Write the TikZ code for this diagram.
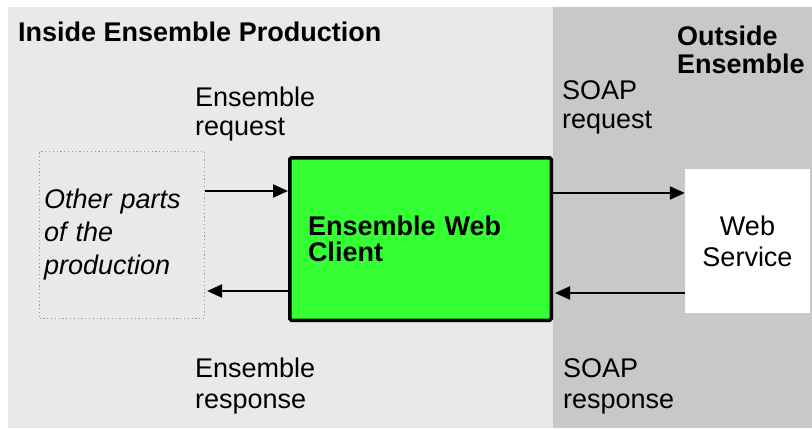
\documentclass[tikz,border=0pt]{standalone}
\usepackage{fontspec}
\setmainfont{Liberation Sans}
\usetikzlibrary{arrows.meta}
\definecolor{inbg}{HTML}{E9E9E9}
\definecolor{outbg}{HTML}{C8C8C8}
\definecolor{clientgreen}{HTML}{33FF33}
\definecolor{dotgrey}{HTML}{9A9A9A}
\begin{document}
\begin{tikzpicture}[x=1pt,y=-1pt,
  region/.style={anchor=north west,inner sep=0pt,outer sep=0pt,draw=none},
  lbl/.style={anchor=base west,inner sep=0pt,align=left,font=\fontsize{27}{#1}\selectfont},
  lbl/.default=29,
  boldlbl/.style={anchor=base west,inner sep=0pt,align=left,font=\fontsize{27}{#1}\selectfont\bfseries},
  boldlbl/.default=28,
  flow/.style={line width=2.2pt,-{Triangle[length=15pt,width=13pt]}},
]
\useasboundingbox (0,0) rectangle (812,429);
\fill[white] (0,0) rectangle (812,429);
% regions
\node[region,fill=inbg,minimum width=545pt,minimum height=421pt] (inside) at (8,7) {};
\node[region,fill=outbg,minimum width=259pt,minimum height=421pt] (outside) at (553,7) {};
% boxes
\node[draw=dotgrey,line width=1.2pt,dash pattern=on 1.2pt off 2.6pt,minimum width=165pt,minimum height=167pt,
      text width=156pt,inner xsep=4pt,align=left,
      font=\fontsize{27}{33}\selectfont\itshape] (other) at (122,235)
      {Other parts\\of the\\production};
\node[draw=black,fill=clientgreen,line width=3.5pt,rounded corners=1.5pt,
      minimum width=261.5pt,minimum height=162.5pt,
      text width=225pt,inner xsep=18pt,align=left,
      font=\fontsize{27}{26}\selectfont\bfseries] (client) at (420.5,239)
      {Ensemble Web\\Client};
\node[fill=white,draw=none,minimum width=125pt,minimum height=144pt,align=center,
      font=\fontsize{27}{31}\selectfont] (ws) at (747.5,241)
      {Web\\Service};
% labels (base anchor = baseline of the last line)
\node[boldlbl] (title) at (18,41) {Inside Ensemble Production};
\node[boldlbl=28] (outtitle) at (677,73) {Outside\\Ensemble};
\node[lbl=29] (ereq) at (195,135) {Ensemble\\request};
\node[lbl=29] (sreq) at (562,128) {SOAP\\request};
\node[lbl=31] (eresp) at (195,408) {Ensemble\\response};
\node[lbl=31] (sresp) at (563,408) {SOAP\\response};
% arrow levels
\coordinate (ya) at (0,191);
\coordinate (yb) at (0,291);
\coordinate (yc) at (0,193);
\coordinate (yd) at (0,293);
\draw[flow] (other.east |- ya) -- (client.west |- ya);
\draw[flow] (client.west |- yb) -- ([xshift=2pt]other.east |- yb);
\draw[flow] (client.east |- yc) -- (ws.west |- yc);
\draw[flow] (ws.west |- yd) -- ([xshift=2pt]client.east |- yd);
\end{tikzpicture}
\end{document}
